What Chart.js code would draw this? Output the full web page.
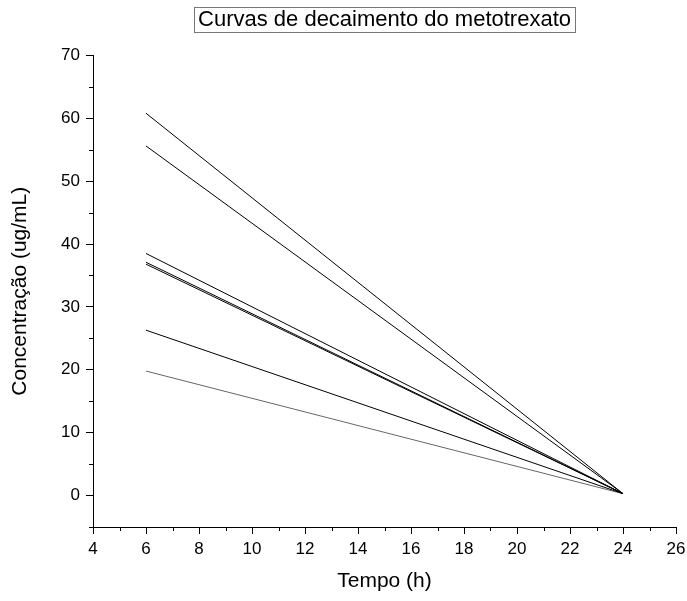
<!DOCTYPE html>
<html>
<head>
<meta charset="utf-8">
<script src="https://cdn.jsdelivr.net/npm/chart.js@4"></script>
<style>
  body{margin:0;background:#fff;}
  #wrap{width:687px;height:601px;}
</style>
</head>
<body>
<div id="wrap"><canvas id="chart" width="687" height="601"></canvas></div>
<script>
// tempo (h) das duas medidas de cada curva
const tempo = [6, 24];
// concentração (ug/mL) em cada tempo
const curva1 = [60.8, 0.3];
const curva2 = [55.6, 0.3];
const curva3 = [38.5, 0.3];
const curva4 = [37.1, 0.3];
const curva5 = [36.8, 0.3];
const curva6 = [26.3, 0.3];
const curva7 = [19.8, 0.3];
const curvas = [curva1, curva2, curva3, curva4, curva5, curva6, curva7];
const cores = ["#000","#000","#000","#000","#000","#000","#666"];

const xTicks = [4, 26, 2];   // min, max, passo
const yTicks = [-5, 70, 10];

const fonte = "Arial, 'Liberation Sans', sans-serif";

// ticks menores + moldura do título
const extras = {
  id: "extras",
  afterDraw(chart){
    const ctx = chart.ctx;
    const x = chart.scales.x, y = chart.scales.y;
    ctx.save();
    ctx.strokeStyle = "#000";
    ctx.lineWidth = 1;
    ctx.beginPath();
    for(let v = xTicks[0] + 1; v < xTicks[1]; v += 2){
      const px = Math.round(x.getPixelForValue(v)) + 0.5;
      ctx.moveTo(px, x.top);
      ctx.lineTo(px, x.top + 4);
    }
    for(let v = yTicks[0]; v < yTicks[1]; v += 10){
      const py = Math.round(y.getPixelForValue(v)) + 0.5;
      ctx.moveTo(y.right, py);
      ctx.lineTo(y.right - 4, py);
    }
    ctx.stroke();

    const tb = chart.titleBlock;
    const o = tb.options;
    ctx.font = `${o.font.size}px ${fonte}`;
    const w = ctx.measureText(o.text).width;
    const cx = (chart.chartArea.left + chart.chartArea.right) / 2;
    const top = tb.top + o.padding.top;
    const h = o.font.size * 1.2;
    ctx.strokeStyle = "#777";
    ctx.strokeRect(Math.round(cx - w/2 - 4) + 0.5, Math.round(top) + 0.5, Math.round(w + 8), Math.round(h - 1));
    ctx.restore();
  }
};

new Chart(document.getElementById("chart"), {
  type: "line",
  data: {
    datasets: curvas.map((c, i) => ({
      data: tempo.map((t, j) => ({x: t, y: c[j]})),
      borderColor: cores[i],
      borderWidth: 1,
      pointRadius: 0,
      fill: false
    }))
  },
  options: {
    responsive: false,
    animation: false,
    layout: { padding: { left: 0, right: 0, top: 0, bottom: 0 } },
    plugins: {
      legend: { display: false },
      tooltip: { enabled: false },
      title: {
        display: true,
        fullSize: false,
        text: "Curvas de decaimento do metotrexato",
        color: "#000",
        font: { family: fonte, size: 22, weight: "normal" },
        padding: { top: 7, bottom: 22 }
      }
    },
    scales: {
      x: {
        type: "linear",
        min: xTicks[0],
        max: xTicks[1],
        afterFit: s => { s.height = 74; s.paddingRight = 11; s.paddingLeft = 0; },
        ticks: {
          stepSize: xTicks[2],
          color: "#000",
          padding: 5,
          maxRotation: 0,
          font: { family: fonte, size: 17 }
        },
        grid: { drawOnChartArea: false, tickLength: 7, tickColor: "#000" },
        border: { color: "#000", width: 1 },
        title: {
          display: true,
          text: "Tempo (h)",
          color: "#000",
          font: { family: fonte, size: 21 },
          padding: { top: 4, bottom: 7 }
        }
      },
      y: {
        type: "linear",
        min: yTicks[0],
        max: yTicks[1],
        afterFit: s => { s.width = 93; },
        ticks: {
          stepSize: yTicks[2],
          color: "#000",
          padding: 6,
          font: { family: fonte, size: 17 },
          callback: v => (v % 10 === 0 ? v : "")
        },
        grid: {
          drawOnChartArea: false,
          tickLength: 7,
          tickColor: c => (c.tick && c.tick.value % 10 === 0 ? "#000" : "rgba(0,0,0,0)")
        },
        border: { color: "#000", width: 1 },
        title: {
          display: true,
          text: "Concentração (ug/mL)",
          color: "#000",
          font: { family: fonte, size: 21 },
          padding: { top: 8, bottom: 0 }
        }
      }
    }
  },
  plugins: [extras]
});
</script>
</body>
</html>
